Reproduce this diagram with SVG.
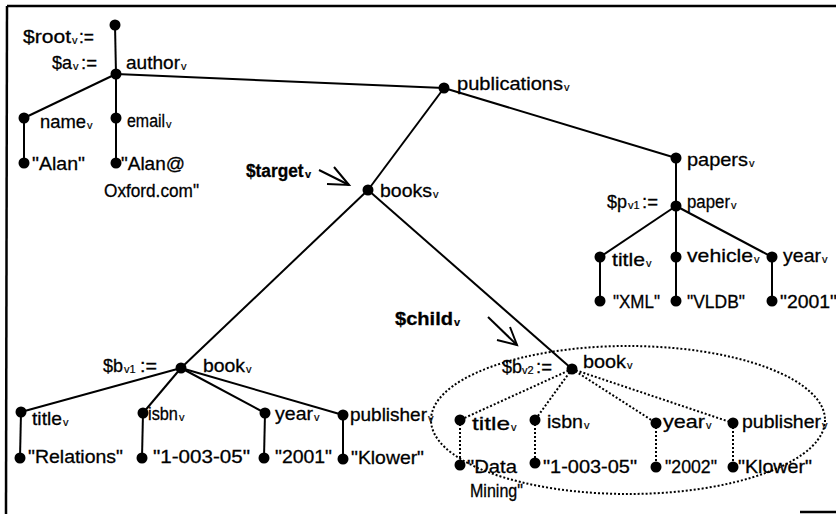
<svg xmlns="http://www.w3.org/2000/svg" width="836" height="514" viewBox="0 0 836 514">
<style>
text{font-family:"Liberation Sans",Arial,sans-serif;font-size:19px;fill:#000;stroke:#000;stroke-width:0.3}
text.b{font-weight:bold}
text.s{font-size:11px;stroke-width:0.2}
.e{stroke:#000;stroke-width:2;fill:none}
.d{stroke:#000;stroke-width:2;fill:none;stroke-dasharray:2 2}
.n{fill:#000}
</style>
<rect width="836" height="514" fill="#fff"/>
<g id="frame" stroke="#000" stroke-width="2.5" fill="none">
<line x1="7" y1="6" x2="836" y2="6"/>
<line x1="7" y1="6" x2="6" y2="514"/>
<line x1="800" y1="512" x2="836" y2="512"/>
</g>
<g id="connectors">
<line class="e" x1="115" y1="25" x2="116" y2="74"/>
<line class="e" x1="116" y1="74" x2="24" y2="118"/>
<line class="e" x1="116" y1="74" x2="116" y2="118"/>
<line class="e" x1="24" y1="118" x2="24" y2="163"/>
<line class="e" x1="116" y1="118" x2="116" y2="163"/>
<line class="e" x1="116" y1="74" x2="444" y2="88"/>
<line class="e" x1="444" y1="88" x2="368" y2="190"/>
<line class="e" x1="444" y1="88" x2="676" y2="158"/>
<line class="e" x1="676" y1="158" x2="676" y2="206"/>
<line class="e" x1="676" y1="206" x2="600" y2="257"/>
<line class="e" x1="676" y1="206" x2="676" y2="257"/>
<line class="e" x1="676" y1="206" x2="772" y2="257"/>
<line class="e" x1="600" y1="257" x2="600" y2="301"/>
<line class="e" x1="676" y1="257" x2="676" y2="301"/>
<line class="e" x1="772" y1="257" x2="772" y2="301"/>
<line class="e" x1="368" y1="190" x2="181" y2="368"/>
<line class="e" x1="368" y1="190" x2="572" y2="369"/>
<line class="e" x1="181" y1="368" x2="21" y2="412"/>
<line class="e" x1="181" y1="368" x2="143" y2="413"/>
<line class="e" x1="181" y1="368" x2="265" y2="413"/>
<line class="e" x1="181" y1="368" x2="343" y2="415"/>
<line class="e" x1="21" y1="412" x2="20" y2="458"/>
<line class="e" x1="143" y1="413" x2="142" y2="458"/>
<line class="e" x1="265" y1="413" x2="264" y2="458"/>
<line class="e" x1="343" y1="415" x2="343" y2="459"/>
<line class="d" x1="572" y1="369" x2="460" y2="420"/>
<line class="d" x1="572" y1="369" x2="535" y2="420"/>
<line class="d" x1="572" y1="369" x2="656" y2="423"/>
<line class="d" x1="572" y1="369" x2="733" y2="423"/>
<line class="d" x1="460" y1="420" x2="460" y2="465"/>
<line class="d" x1="535" y1="420" x2="535" y2="463"/>
<line class="d" x1="656" y1="423" x2="656" y2="467"/>
<line class="d" x1="733" y1="423" x2="733" y2="467"/>
<ellipse class="d" cx="628" cy="420" rx="197" ry="74" stroke-width="1.8"/>
<polyline class="e" points="319,170 349,185"/>
<polyline class="e" points="334,167 349,185 327,184"/>
<polyline class="e" points="488,317 517,345"/>
<polyline class="e" points="510,327 517,345 497,340"/>
</g>
<g id="root"><circle class="n" cx="115" cy="25" r="5.5"/><text x="23" y="43" textLength="48" lengthAdjust="spacingAndGlyphs">$root</text><text class="s" x="72" y="44">v</text><text x="79" y="43" textLength="15" lengthAdjust="spacingAndGlyphs">:=</text></g>
<g id="author"><circle class="n" cx="116" cy="74" r="5.5"/><text x="52" y="69" textLength="20" lengthAdjust="spacingAndGlyphs">$a</text><text class="s" x="73" y="70">v</text><text x="81" y="69" textLength="16" lengthAdjust="spacingAndGlyphs">:=</text><text x="126" y="69" textLength="54" lengthAdjust="spacingAndGlyphs">author</text><text class="s" x="181" y="70">v</text></g>
<g id="name"><circle class="n" cx="24" cy="118" r="5.5"/><text x="40" y="128" textLength="46" lengthAdjust="spacingAndGlyphs">name</text><text class="s" x="87" y="129">v</text></g>
<g id="email"><circle class="n" cx="116" cy="118" r="5.5"/><text transform="translate(127,127) scale(0.84,1)">email</text><text class="s" x="166" y="128">v</text></g>
<g id="alan"><circle class="n" cx="24" cy="163" r="5.5"/><text x="32" y="170" textLength="53" lengthAdjust="spacingAndGlyphs">"Alan"</text></g>
<g id="alanmail"><circle class="n" cx="116" cy="163" r="5.5"/><text x="121" y="170" textLength="64" lengthAdjust="spacingAndGlyphs">"Alan@</text><text x="104" y="197" textLength="95" lengthAdjust="spacingAndGlyphs">Oxford.com"</text></g>
<g id="target"><text class="b" transform="translate(246,177) scale(0.91,1)">$target</text><text class="s b" x="305" y="178">v</text></g>
<g id="publications"><circle class="n" cx="444" cy="88" r="5.5"/><text x="457" y="90" textLength="106" lengthAdjust="spacingAndGlyphs">publications</text><text class="s" x="564" y="91">v</text></g>
<g id="books"><circle class="n" cx="368" cy="190" r="5.5"/><text x="380" y="197" textLength="52" lengthAdjust="spacingAndGlyphs">books</text><text class="s" x="433" y="198">v</text></g>
<g id="papers"><circle class="n" cx="676" cy="158" r="5.5"/><text x="687" y="166" textLength="61" lengthAdjust="spacingAndGlyphs">papers</text><text class="s" x="749" y="167">v</text></g>
<g id="paper"><circle class="n" cx="676" cy="206" r="5.5"/><text x="607" y="208" textLength="20" lengthAdjust="spacingAndGlyphs">$p</text><text class="s" x="628" y="209">v1</text><text x="642" y="208" textLength="16" lengthAdjust="spacingAndGlyphs">:=</text><text transform="translate(687,208) scale(0.885,1)">paper</text><text class="s" x="731" y="209">v</text></g>
<g id="ptitle"><circle class="n" cx="600" cy="257" r="5.5"/><text x="612" y="266" textLength="33" lengthAdjust="spacingAndGlyphs">title</text><text class="s" x="646" y="267">v</text></g>
<g id="pvehicle"><circle class="n" cx="676" cy="257" r="5.5"/><text x="687" y="262" textLength="66" lengthAdjust="spacingAndGlyphs">vehicle</text><text class="s" x="754" y="263">v</text></g>
<g id="pyear"><circle class="n" cx="772" cy="257" r="5.5"/><text x="783" y="262" textLength="38" lengthAdjust="spacingAndGlyphs">year</text><text class="s" x="822" y="263">v</text></g>
<g id="xml"><circle class="n" cx="600" cy="301" r="5.5"/><text x="613" y="308" textLength="47" lengthAdjust="spacingAndGlyphs">"XML"</text></g>
<g id="vldb"><circle class="n" cx="676" cy="301" r="5.5"/><text x="687" y="308" textLength="58" lengthAdjust="spacingAndGlyphs">"VLDB"</text></g>
<g id="p2001"><circle class="n" cx="772" cy="301" r="5.5"/><text x="780" y="308" textLength="57" lengthAdjust="spacingAndGlyphs">"2001"</text></g>
<g id="child"><text class="b" x="395" y="325" textLength="58" lengthAdjust="spacingAndGlyphs">$child</text><text class="s b" x="454" y="326">v</text></g>
<g id="book1"><circle class="n" cx="181" cy="368" r="5.5"/><text x="103" y="372" textLength="20" lengthAdjust="spacingAndGlyphs">$b</text><text class="s" x="124" y="373">v1</text><text x="140" y="372" textLength="17" lengthAdjust="spacingAndGlyphs">:=</text><text x="203" y="372" textLength="42" lengthAdjust="spacingAndGlyphs">book</text><text class="s" x="246" y="373">v</text></g>
<g id="b1title"><circle class="n" cx="21" cy="412" r="5.5"/><text x="32" y="425" textLength="30" lengthAdjust="spacingAndGlyphs">title</text><text class="s" x="63" y="426">v</text></g>
<g id="b1isbn"><circle class="n" cx="143" cy="413" r="5.5"/><text transform="translate(148,420) scale(0.86,1)">isbn</text><text class="s" x="179" y="421">v</text></g>
<g id="b1year"><circle class="n" cx="265" cy="413" r="5.5"/><text x="275" y="420" textLength="38" lengthAdjust="spacingAndGlyphs">year</text><text class="s" x="314" y="421">v</text></g>
<g id="b1publisher"><circle class="n" cx="343" cy="415" r="5.5"/><text x="350" y="421" textLength="77" lengthAdjust="spacingAndGlyphs">publisher</text><text class="s" x="428" y="422">v</text></g>
<g id="relations"><circle class="n" cx="20" cy="458" r="5.5"/><text x="28" y="463" textLength="95" lengthAdjust="spacingAndGlyphs">"Relations"</text></g>
<g id="b1isbnval"><circle class="n" cx="142" cy="458" r="5.5"/><text x="153" y="463" textLength="97" lengthAdjust="spacingAndGlyphs">"1-003-05"</text></g>
<g id="b1yearval"><circle class="n" cx="264" cy="458" r="5.5"/><text x="275" y="463" textLength="57" lengthAdjust="spacingAndGlyphs">"2001"</text></g>
<g id="b1klower"><circle class="n" cx="343" cy="459" r="5.5"/><text x="351" y="464" textLength="73" lengthAdjust="spacingAndGlyphs">"Klower"</text></g>
<g id="book2"><circle class="n" cx="572" cy="369" r="5.5"/><text x="502" y="373" textLength="20" lengthAdjust="spacingAndGlyphs">$b</text><text class="s" x="522" y="374">v2</text><text x="536" y="373" textLength="16" lengthAdjust="spacingAndGlyphs">:=</text><text x="583" y="368" textLength="43" lengthAdjust="spacingAndGlyphs">book</text><text class="s" x="627" y="369">v</text></g>
<g id="b2title"><circle class="n" cx="460" cy="420" r="5.5"/><text x="472" y="430" textLength="38" lengthAdjust="spacingAndGlyphs">title</text><text class="s" x="511" y="431">v</text></g>
<g id="b2isbn"><circle class="n" cx="535" cy="420" r="5.5"/><text x="547" y="428" textLength="36" lengthAdjust="spacingAndGlyphs">isbn</text><text class="s" x="584" y="429">v</text></g>
<g id="b2year"><circle class="n" cx="656" cy="423" r="5.5"/><text x="663" y="428" textLength="42" lengthAdjust="spacingAndGlyphs">year</text><text class="s" x="706" y="429">v</text></g>
<g id="b2publisher"><circle class="n" cx="733" cy="423" r="5.5"/><text x="742" y="428" textLength="79" lengthAdjust="spacingAndGlyphs">publisher</text><text class="s" x="822" y="429">v</text></g>
<g id="datamining"><circle class="n" cx="460" cy="465" r="5.5"/><text x="467" y="473" textLength="50" lengthAdjust="spacingAndGlyphs">"Data</text><text transform="translate(470,497) scale(0.845,1)">Mining"</text></g>
<g id="b2isbnval"><circle class="n" cx="535" cy="463" r="5.5"/><text x="543" y="473" textLength="94" lengthAdjust="spacingAndGlyphs">"1-003-05"</text></g>
<g id="b2yearval"><circle class="n" cx="656" cy="467" r="5.5"/><text x="665" y="473" textLength="52" lengthAdjust="spacingAndGlyphs">"2002"</text></g>
<g id="b2klower"><circle class="n" cx="733" cy="467" r="5.5"/><text x="738" y="473" textLength="74" lengthAdjust="spacingAndGlyphs">"Klower"</text></g>
</svg>
